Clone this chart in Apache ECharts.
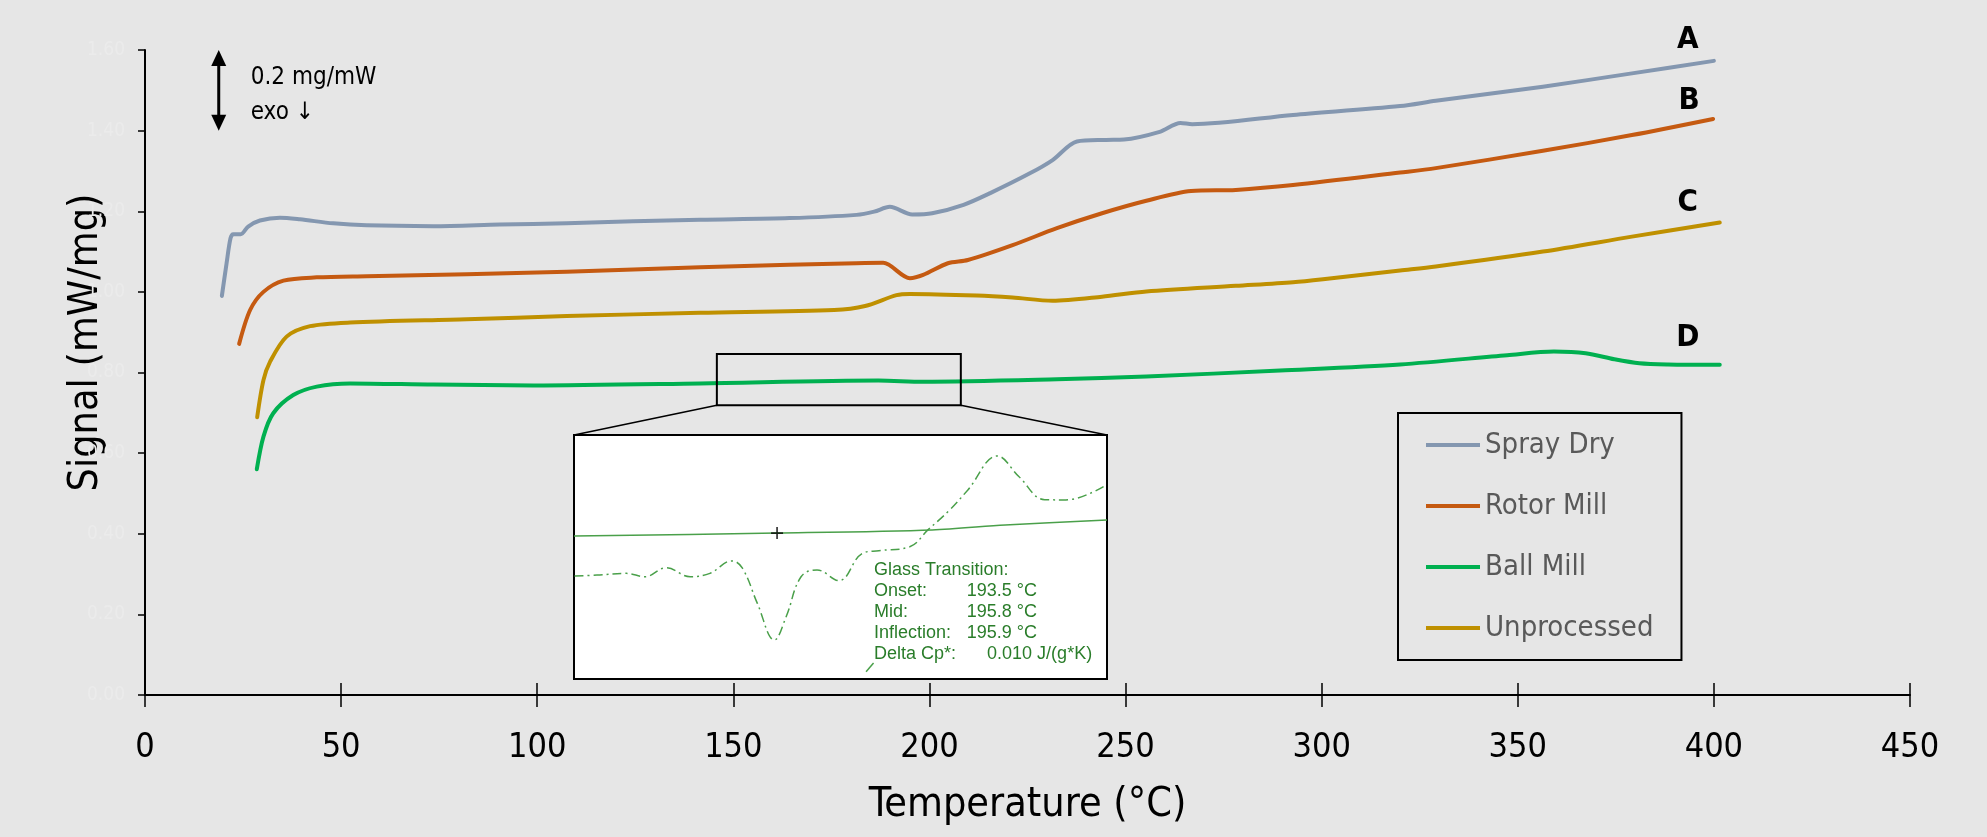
<!DOCTYPE html>
<html><head><meta charset="utf-8">
<script src="https://cdn.jsdelivr.net/npm/echarts@6/dist/echarts.min.js"></script>
<style>html,body{margin:0;padding:0;background:#e6e6e6}#c{width:1987px;height:837px}</style>
</head><body><div id="c"></div>
<script>
const FONT = "'Liberation Sans Narrow','DejaVu Sans Condensed','Roboto Condensed',Roboto,sans-serif";

// ---- data (temperature °C, signal mW/mg) ----
const seriesNames = ['Spray Dry', 'Rotor Mill', 'Ball Mill', 'Unprocessed'];
const curveTags = ['A', 'B', 'D', 'C'];
const seriesColors = ['#8497b0', '#c55a11', '#00b050', '#bf9000'];

const sprayDryT = [19.6,20.8,21.8,22.5,24.4,26.3,29.3,34.4,39.5,48.0,56.5,73.5,90.5,107.5,124.5,141.5,164.3,181.4,185.9,189.9,195.6,200.7,208.7,215.5,225.6,231.4,237.6,245.0,249.6,258.7,264.0,267.0,292.7,320.0,329.1,356.4,379.1,400.0];
const sprayDryV = [0.990,1.071,1.133,1.143,1.143,1.162,1.177,1.184,1.180,1.170,1.165,1.163,1.167,1.170,1.175,1.179,1.183,1.191,1.199,1.211,1.192,1.195,1.216,1.245,1.294,1.327,1.373,1.377,1.378,1.397,1.419,1.416,1.439,1.461,1.474,1.509,1.542,1.573];

const rotorMillT = [24.0,26.8,30.2,35.3,43.8,56.5,82.0,107.5,141.5,164.2,181.3,188.2,195.0,198.4,204.7,209.8,221.2,232.5,244.0,255.3,266.7,278.1,292.7,320.0,329.1,356.4,379.1,399.8];
const rotorMillV = [0.871,0.955,1.000,1.028,1.036,1.039,1.044,1.050,1.061,1.067,1.071,1.072,1.034,1.042,1.071,1.079,1.116,1.158,1.195,1.226,1.250,1.253,1.265,1.296,1.307,1.350,1.389,1.429];

const ballMillT = [28.5,30.2,32.7,37.8,43.8,52.3,73.5,99.0,141.5,187.0,198.4,232.5,255.3,289.4,320.0,347.3,359.2,367.3,374.6,381.0,388.3,401.5];
const ballMillV = [0.560,0.641,0.699,0.744,0.765,0.773,0.770,0.768,0.773,0.780,0.777,0.783,0.790,0.805,0.820,0.843,0.852,0.848,0.833,0.823,0.820,0.819];

const unprocessedT = [28.6,30.2,31.9,36.1,42.1,52.3,82.0,107.5,141.5,175.7,183.6,191.6,195.0,212.1,221.2,231.4,244.0,255.3,278.1,292.7,300.9,320.0,329.1,356.4,379.1,401.5];
const unprocessedV = [0.689,0.781,0.827,0.889,0.915,0.924,0.932,0.940,0.948,0.955,0.965,0.992,0.995,0.991,0.986,0.978,0.988,1.001,1.015,1.024,1.032,1.053,1.063,1.100,1.137,1.172];

// zoom window on the Ball Mill curve (temperature range, signal range)
const zoomWindowT = [145.8, 208.0];
const zoomWindowV = [0.719, 0.846];

// inset (glass transition detail), in inset percent units
const insetSolidX = [0, 38.1, 67.2, 80.9, 100];
const insetSolidY = [58.6, 59.8, 61.1, 63.1, 65.2];
const insetDerivX = [0.1,4.3,9.8,13.3,17.3,21.8,25.5,29.6,31.6,34.4,37.6,39.8,42.6,45.6,49.7,54.1,57.2,63.0,66.4,70.5,73.9,79.4,83.5,88.3,92.3,99.6];
const insetDerivY = [42.2,42.6,43.3,41.9,45.6,41.9,43.3,48.4,45.4,31.0,16.0,25.5,41.9,44.7,40.3,51.5,52.6,54.2,61.1,69.3,77.5,91.4,82.9,73.5,73.4,79.2];
const insetTailX = [54.8, 56.2];
const insetTailY = [3.0, 6.6];
const insetMarkerX = [38.1];
const insetMarkerY = [59.8];
const glassLabels = ['Onset:', 'Mid:', 'Inflection:', 'Delta Cp*:'];
const glassValues = ['193.5 °C', '195.8 °C', '195.9 °C', '0.010 J/(g*K)'];

const scaleBarText = ['0.2 mg/mW', 'exo ↓'];
const scaleBarV = [1.6, 1.4];
const scaleBarT = 18.8;

const zip = (a, b) => a.map((v, i) => [v, b[i]]);
const mainData = [zip(sprayDryT, sprayDryV), zip(rotorMillT, rotorMillV), zip(ballMillT, ballMillV), zip(unprocessedT, unprocessedV)];
const tagOffsets = [[-26, -21], [-24, -18], [-32, -27], [-32, -20]];

const chart = echarts.init(document.getElementById('c'), null, {renderer: 'canvas'});

const mainSeries = seriesNames.map((name, i) => ({
  name, type: 'line', xAxisIndex: 0, yAxisIndex: 0,
  data: mainData[i], showSymbol: false, symbol: 'none', smooth: 0.3,
  lineStyle: {color: seriesColors[i], width: 4, cap: 'round', join: 'round'},
  itemStyle: {color: seriesColors[i]},
  endLabel: {show: true, formatter: curveTags[i], distance: 0, offset: tagOffsets[i],
    align: 'center', verticalAlign: 'middle', fontSize: 31, fontWeight: 'bold', color: '#000', fontFamily: FONT},
  z: 3
}));

const option = {
  animation: false,
  backgroundColor: '#e6e6e6',
  grid: [
    {left: 145, right: 77, top: 50, bottom: 142, containLabel: false},
    {left: 574, top: 435, width: 533, height: 244, show: true, backgroundColor: '#ffffff', borderColor: '#000', borderWidth: 2, z: 1}
  ],
  xAxis: [
    {type: 'value', gridIndex: 0, min: 0, max: 450, interval: 50, position: 'bottom',
     name: 'Temperature (°C)', nameLocation: 'middle', nameGap: 90, nameMoveOverlap: false,
     nameTextStyle: {fontSize: 41, color: '#000', fontFamily: FONT},
     axisLine: {show: true, lineStyle: {color: '#000', width: 2}},
     axisTick: {show: true, inside: false, length: 12, lineStyle: {color: '#000', width: 1.5}},
     axisLabel: {fontSize: 34, color: '#000', fontFamily: FONT, margin: 36},
     splitLine: {show: false}},
    {type: 'value', gridIndex: 0, min: 0, max: 450, interval: 50, position: 'bottom',
     axisLine: {show: false}, axisTick: {show: true, inside: true, length: 12, lineStyle: {color: '#000', width: 1.5}},
     axisLabel: {show: false}, splitLine: {show: false}},
    {type: 'value', gridIndex: 1, min: 0, max: 100, show: false}
  ],
  yAxis: [
    {type: 'value', gridIndex: 0, min: 0, max: 1.6, interval: 0.2,
     name: 'Signal (mW/mg)', nameLocation: 'middle', nameGap: 38, nameRotate: 90, nameMoveOverlap: false,
     nameTextStyle: {fontSize: 41, color: '#000', fontFamily: FONT, padding: [0, 0, 0, 60]},
     axisLine: {show: true, lineStyle: {color: '#000', width: 2}},
     axisTick: {show: true, inside: false, length: 7, lineStyle: {color: '#000', width: 1.5}},
     axisLabel: {fontSize: 19, color: '#ebebeb', fontFamily: FONT, margin: 20, formatter: v => v.toFixed(2)},
     splitLine: {show: false}},
    {type: 'value', gridIndex: 1, min: 0, max: 100, show: false}
  ],
  legend: {
    orient: 'vertical', left: 1398, top: 413, padding: [12, 28, 12, 28],
    borderColor: '#000', borderWidth: 2, backgroundColor: 'transparent',
    itemWidth: 54, itemHeight: 4, itemGap: 21, icon: 'rect',
    textStyle: {fontSize: 29, color: '#595959', fontFamily: FONT, width: 166, lineHeight: 40},
    data: seriesNames
  },
  series: mainSeries.concat([
    {type: 'line', xAxisIndex: 2, yAxisIndex: 1, data: zip(insetSolidX, insetSolidY), showSymbol: false, symbol: 'none', smooth: 0.3,
     lineStyle: {color: '#4aa04a', width: 1.5}, z: 4, silent: true},
    {type: 'line', xAxisIndex: 2, yAxisIndex: 1, data: zip(insetDerivX, insetDerivY), showSymbol: false, symbol: 'none', smooth: 0.4,
     lineStyle: {color: '#4aa04a', width: 1.5, type: [9, 4, 2, 4]}, z: 4, silent: true},
    {type: 'line', xAxisIndex: 2, yAxisIndex: 1, data: zip(insetTailX, insetTailY), showSymbol: false, symbol: 'none',
     lineStyle: {color: '#4aa04a', width: 1.5}, z: 4, silent: true},
    {type: 'scatter', xAxisIndex: 2, yAxisIndex: 1, data: zip(insetMarkerX, insetMarkerY),
     symbol: 'path://M4.3,0H5.7V10H4.3Z M0,4.3H10V5.7H0Z', symbolSize: 12, itemStyle: {color: '#000'}, z: 5, silent: true}
  ])
};
chart.setOption(option);

function decorate() {
  const p = (t, v) => chart.convertToPixel({gridIndex: 0}, [t, v]);
  const q = (x, y) => chart.convertToPixel({gridIndex: 1}, [x, y]);
  const g = [];
  // zoom window rectangle and connectors
  const a = p(zoomWindowT[0], zoomWindowV[1]);
  const b = p(zoomWindowT[1], zoomWindowV[0]);
  g.push({type: 'rect', shape: {x: a[0], y: a[1], width: b[0] - a[0], height: b[1] - a[1]},
          style: {fill: 'none', stroke: '#000', lineWidth: 2}, z: 10});
  const tl = q(0, 100), tr = q(100, 100);
  g.push({type: 'line', shape: {x1: a[0], y1: b[1], x2: tl[0], y2: tl[1]}, style: {stroke: '#000', lineWidth: 1.5}, z: 10});
  g.push({type: 'line', shape: {x1: b[0], y1: b[1], x2: tr[0], y2: tr[1]}, style: {stroke: '#000', lineWidth: 1.5}, z: 10});
  // scale bar arrow
  const s1 = p(scaleBarT, scaleBarV[0]), s2 = p(scaleBarT, scaleBarV[1]);
  const hw = 7.5, hh = 16;
  g.push({type: 'line', shape: {x1: s1[0], y1: s1[1] + hh - 2, x2: s2[0], y2: s2[1] - hh + 2}, style: {stroke: '#000', lineWidth: 3}, z: 10});
  g.push({type: 'polygon', shape: {points: [[s1[0], s1[1]], [s1[0] - hw, s1[1] + hh], [s1[0] + hw, s1[1] + hh]]}, style: {fill: '#000'}, z: 10});
  g.push({type: 'polygon', shape: {points: [[s2[0], s2[1]], [s2[0] - hw, s2[1] - hh], [s2[0] + hw, s2[1] - hh]]}, style: {fill: '#000'}, z: 10});
  const midY = (s1[1] + s2[1]) / 2;
  g.push({type: 'text', x: s1[0] + 32, y: midY - 13, style: {text: scaleBarText[0], fontSize: 24, fontFamily: FONT, fill: '#000', verticalAlign: 'middle'}, z: 10});
  g.push({type: 'text', x: s1[0] + 32, y: midY + 22, style: {text: scaleBarText[1], fontSize: 24, fontFamily: FONT, fill: '#000', verticalAlign: 'middle'}, z: 10});
  // inset annotation text
  const tx = q(56.3, 44.7);
  const vx = q(73.7, 0)[0], vx2 = q(77.5, 0)[0];
  const lh = 21;
  const tstyle = {fontSize: 18, fontFamily: "'Liberation Sans',Arial,sans-serif", fill: '#2a7d2a', verticalAlign: 'middle'};
  g.push({type: 'text', x: tx[0], y: tx[1], style: Object.assign({text: 'Glass Transition:'}, tstyle), z: 11});
  glassLabels.forEach((lab, i) => {
    const y = tx[1] + lh * (i + 1);
    g.push({type: 'text', x: tx[0], y, style: Object.assign({text: lab}, tstyle), z: 11});
    g.push({type: 'text', x: i === 3 ? vx2 : vx, y, style: Object.assign({text: glassValues[i]}, tstyle), z: 11});
  });
  chart.setOption({graphic: g});
}
decorate();
</script></body></html>
